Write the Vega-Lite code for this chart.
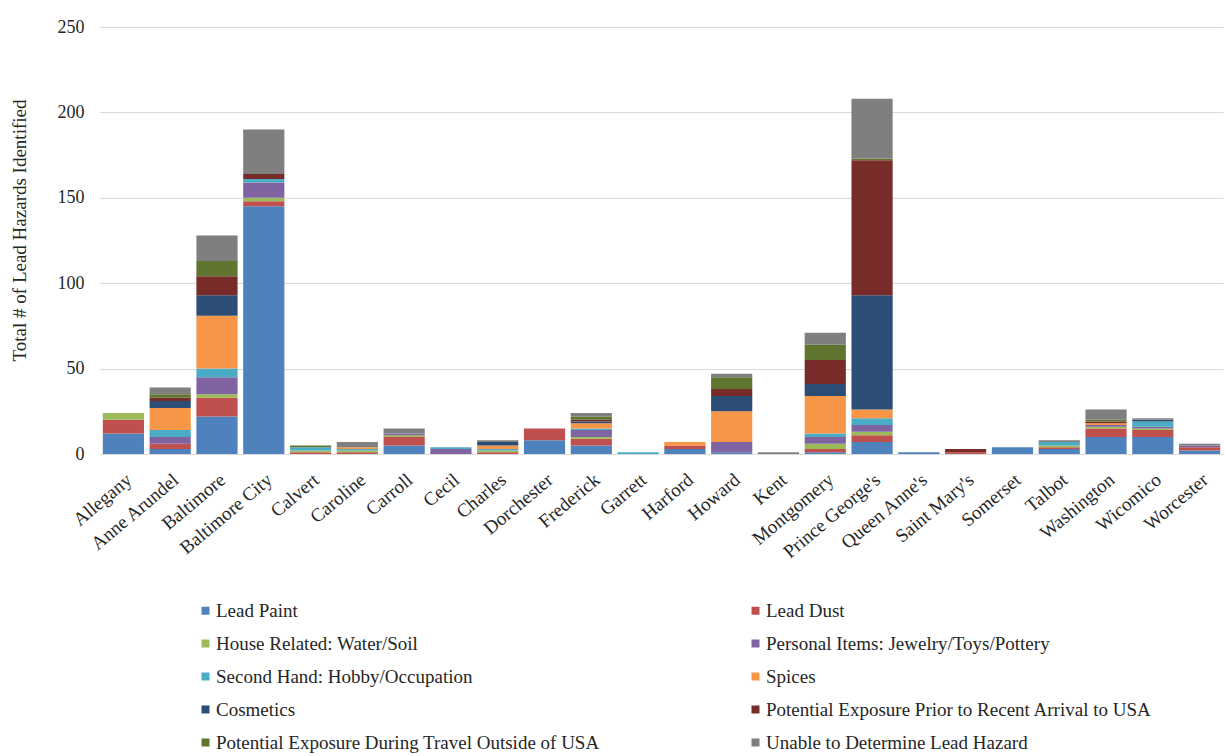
{
  "$schema": "https://vega.github.io/schema/vega-lite/v6.json",
  "autosize": "none",
  "width": 1123,
  "height": 427,
  "padding": {"left": 100, "top": 27, "right": 2, "bottom": 302},
  "background": "white",
  "config": {
    "font": "Liberation Serif",
    "view": {"stroke": null},
    "axis": {"labelFont": "Liberation Serif", "titleFont": "Liberation Serif", "labelColor": "#262626", "titleColor": "#262626"},
    "legend": {"labelFont": "Liberation Serif"}
  },
  "data": {
    "values": [
      {"county": "Allegany", "hazard": "Lead Paint", "count": 12},
      {"county": "Allegany", "hazard": "Lead Dust", "count": 8},
      {"county": "Allegany", "hazard": "House Related: Water/Soil", "count": 4},
      {"county": "Anne Arundel", "hazard": "Lead Paint", "count": 3},
      {"county": "Anne Arundel", "hazard": "Lead Dust", "count": 3},
      {"county": "Anne Arundel", "hazard": "Personal Items: Jewelry/Toys/Pottery", "count": 4},
      {"county": "Anne Arundel", "hazard": "Second Hand: Hobby/Occupation", "count": 4},
      {"county": "Anne Arundel", "hazard": "Spices", "count": 13},
      {"county": "Anne Arundel", "hazard": "Cosmetics", "count": 4},
      {"county": "Anne Arundel", "hazard": "Potential Exposure Prior to Recent Arrival to USA", "count": 2},
      {"county": "Anne Arundel", "hazard": "Potential Exposure During Travel Outside of USA", "count": 2},
      {"county": "Anne Arundel", "hazard": "Unable to Determine Lead Hazard", "count": 4},
      {"county": "Baltimore", "hazard": "Lead Paint", "count": 22},
      {"county": "Baltimore", "hazard": "Lead Dust", "count": 11},
      {"county": "Baltimore", "hazard": "House Related: Water/Soil", "count": 2},
      {"county": "Baltimore", "hazard": "Personal Items: Jewelry/Toys/Pottery", "count": 10},
      {"county": "Baltimore", "hazard": "Second Hand: Hobby/Occupation", "count": 5},
      {"county": "Baltimore", "hazard": "Spices", "count": 31},
      {"county": "Baltimore", "hazard": "Cosmetics", "count": 12},
      {"county": "Baltimore", "hazard": "Potential Exposure Prior to Recent Arrival to USA", "count": 11},
      {"county": "Baltimore", "hazard": "Potential Exposure During Travel Outside of USA", "count": 9},
      {"county": "Baltimore", "hazard": "Unable to Determine Lead Hazard", "count": 15},
      {"county": "Baltimore City", "hazard": "Lead Paint", "count": 145},
      {"county": "Baltimore City", "hazard": "Lead Dust", "count": 3},
      {"county": "Baltimore City", "hazard": "House Related: Water/Soil", "count": 2},
      {"county": "Baltimore City", "hazard": "Personal Items: Jewelry/Toys/Pottery", "count": 9},
      {"county": "Baltimore City", "hazard": "Second Hand: Hobby/Occupation", "count": 2},
      {"county": "Baltimore City", "hazard": "Potential Exposure Prior to Recent Arrival to USA", "count": 3},
      {"county": "Baltimore City", "hazard": "Unable to Determine Lead Hazard", "count": 26},
      {"county": "Calvert", "hazard": "Lead Dust", "count": 1},
      {"county": "Calvert", "hazard": "House Related: Water/Soil", "count": 1},
      {"county": "Calvert", "hazard": "Second Hand: Hobby/Occupation", "count": 2},
      {"county": "Calvert", "hazard": "Potential Exposure During Travel Outside of USA", "count": 1},
      {"county": "Caroline", "hazard": "Lead Dust", "count": 1},
      {"county": "Caroline", "hazard": "House Related: Water/Soil", "count": 1},
      {"county": "Caroline", "hazard": "Second Hand: Hobby/Occupation", "count": 1},
      {"county": "Caroline", "hazard": "Spices", "count": 1},
      {"county": "Caroline", "hazard": "Unable to Determine Lead Hazard", "count": 3},
      {"county": "Carroll", "hazard": "Lead Paint", "count": 5},
      {"county": "Carroll", "hazard": "Lead Dust", "count": 5},
      {"county": "Carroll", "hazard": "House Related: Water/Soil", "count": 1},
      {"county": "Carroll", "hazard": "Personal Items: Jewelry/Toys/Pottery", "count": 1},
      {"county": "Carroll", "hazard": "Unable to Determine Lead Hazard", "count": 3},
      {"county": "Cecil", "hazard": "Personal Items: Jewelry/Toys/Pottery", "count": 3},
      {"county": "Cecil", "hazard": "Second Hand: Hobby/Occupation", "count": 1},
      {"county": "Charles", "hazard": "Lead Dust", "count": 1},
      {"county": "Charles", "hazard": "House Related: Water/Soil", "count": 1},
      {"county": "Charles", "hazard": "Second Hand: Hobby/Occupation", "count": 1},
      {"county": "Charles", "hazard": "Spices", "count": 2},
      {"county": "Charles", "hazard": "Cosmetics", "count": 2},
      {"county": "Charles", "hazard": "Unable to Determine Lead Hazard", "count": 1},
      {"county": "Dorchester", "hazard": "Lead Paint", "count": 8},
      {"county": "Dorchester", "hazard": "Lead Dust", "count": 7},
      {"county": "Frederick", "hazard": "Lead Paint", "count": 5},
      {"county": "Frederick", "hazard": "Lead Dust", "count": 4},
      {"county": "Frederick", "hazard": "House Related: Water/Soil", "count": 1},
      {"county": "Frederick", "hazard": "Personal Items: Jewelry/Toys/Pottery", "count": 4},
      {"county": "Frederick", "hazard": "Second Hand: Hobby/Occupation", "count": 1},
      {"county": "Frederick", "hazard": "Spices", "count": 3},
      {"county": "Frederick", "hazard": "Cosmetics", "count": 1},
      {"county": "Frederick", "hazard": "Potential Exposure Prior to Recent Arrival to USA", "count": 1},
      {"county": "Frederick", "hazard": "Potential Exposure During Travel Outside of USA", "count": 2},
      {"county": "Frederick", "hazard": "Unable to Determine Lead Hazard", "count": 2},
      {"county": "Garrett", "hazard": "Second Hand: Hobby/Occupation", "count": 1},
      {"county": "Harford", "hazard": "Lead Paint", "count": 3},
      {"county": "Harford", "hazard": "Lead Dust", "count": 2},
      {"county": "Harford", "hazard": "Spices", "count": 2},
      {"county": "Howard", "hazard": "Lead Paint", "count": 1},
      {"county": "Howard", "hazard": "Personal Items: Jewelry/Toys/Pottery", "count": 6},
      {"county": "Howard", "hazard": "Spices", "count": 18},
      {"county": "Howard", "hazard": "Cosmetics", "count": 9},
      {"county": "Howard", "hazard": "Potential Exposure Prior to Recent Arrival to USA", "count": 4},
      {"county": "Howard", "hazard": "Potential Exposure During Travel Outside of USA", "count": 7},
      {"county": "Howard", "hazard": "Unable to Determine Lead Hazard", "count": 2},
      {"county": "Kent", "hazard": "Unable to Determine Lead Hazard", "count": 1},
      {"county": "Montgomery", "hazard": "Lead Paint", "count": 1},
      {"county": "Montgomery", "hazard": "Lead Dust", "count": 2},
      {"county": "Montgomery", "hazard": "House Related: Water/Soil", "count": 3},
      {"county": "Montgomery", "hazard": "Personal Items: Jewelry/Toys/Pottery", "count": 4},
      {"county": "Montgomery", "hazard": "Second Hand: Hobby/Occupation", "count": 2},
      {"county": "Montgomery", "hazard": "Spices", "count": 22},
      {"county": "Montgomery", "hazard": "Cosmetics", "count": 7},
      {"county": "Montgomery", "hazard": "Potential Exposure Prior to Recent Arrival to USA", "count": 14},
      {"county": "Montgomery", "hazard": "Potential Exposure During Travel Outside of USA", "count": 9},
      {"county": "Montgomery", "hazard": "Unable to Determine Lead Hazard", "count": 7},
      {"county": "Prince George's", "hazard": "Lead Paint", "count": 7},
      {"county": "Prince George's", "hazard": "Lead Dust", "count": 4},
      {"county": "Prince George's", "hazard": "House Related: Water/Soil", "count": 2},
      {"county": "Prince George's", "hazard": "Personal Items: Jewelry/Toys/Pottery", "count": 4},
      {"county": "Prince George's", "hazard": "Second Hand: Hobby/Occupation", "count": 4},
      {"county": "Prince George's", "hazard": "Spices", "count": 5},
      {"county": "Prince George's", "hazard": "Cosmetics", "count": 67},
      {"county": "Prince George's", "hazard": "Potential Exposure Prior to Recent Arrival to USA", "count": 79},
      {"county": "Prince George's", "hazard": "Potential Exposure During Travel Outside of USA", "count": 1},
      {"county": "Prince George's", "hazard": "Unable to Determine Lead Hazard", "count": 35},
      {"county": "Queen Anne's", "hazard": "Lead Paint", "count": 1},
      {"county": "Saint Mary's", "hazard": "Lead Dust", "count": 1},
      {"county": "Saint Mary's", "hazard": "Potential Exposure Prior to Recent Arrival to USA", "count": 2},
      {"county": "Somerset", "hazard": "Lead Paint", "count": 4},
      {"county": "Talbot", "hazard": "Lead Paint", "count": 3},
      {"county": "Talbot", "hazard": "Lead Dust", "count": 1},
      {"county": "Talbot", "hazard": "House Related: Water/Soil", "count": 1},
      {"county": "Talbot", "hazard": "Second Hand: Hobby/Occupation", "count": 2},
      {"county": "Talbot", "hazard": "Unable to Determine Lead Hazard", "count": 1},
      {"county": "Washington", "hazard": "Lead Paint", "count": 10},
      {"county": "Washington", "hazard": "Lead Dust", "count": 5},
      {"county": "Washington", "hazard": "House Related: Water/Soil", "count": 1},
      {"county": "Washington", "hazard": "Personal Items: Jewelry/Toys/Pottery", "count": 1},
      {"county": "Washington", "hazard": "Spices", "count": 1},
      {"county": "Washington", "hazard": "Potential Exposure Prior to Recent Arrival to USA", "count": 1},
      {"county": "Washington", "hazard": "Potential Exposure During Travel Outside of USA", "count": 1},
      {"county": "Washington", "hazard": "Unable to Determine Lead Hazard", "count": 6},
      {"county": "Wicomico", "hazard": "Lead Paint", "count": 10},
      {"county": "Wicomico", "hazard": "Lead Dust", "count": 4},
      {"county": "Wicomico", "hazard": "House Related: Water/Soil", "count": 1},
      {"county": "Wicomico", "hazard": "Personal Items: Jewelry/Toys/Pottery", "count": 1},
      {"county": "Wicomico", "hazard": "Second Hand: Hobby/Occupation", "count": 3},
      {"county": "Wicomico", "hazard": "Cosmetics", "count": 1},
      {"county": "Wicomico", "hazard": "Unable to Determine Lead Hazard", "count": 1},
      {"county": "Worcester", "hazard": "Lead Paint", "count": 2},
      {"county": "Worcester", "hazard": "Lead Dust", "count": 2},
      {"county": "Worcester", "hazard": "Personal Items: Jewelry/Toys/Pottery", "count": 1},
      {"county": "Worcester", "hazard": "Unable to Determine Lead Hazard", "count": 1}
    ]
  },
  "transform": [
    {"calculate": "indexof(['Lead Paint', 'Lead Dust', 'House Related: Water/Soil', 'Personal Items: Jewelry/Toys/Pottery', 'Second Hand: Hobby/Occupation', 'Spices', 'Cosmetics', 'Potential Exposure Prior to Recent Arrival to USA', 'Potential Exposure During Travel Outside of USA', 'Unable to Determine Lead Hazard'], datum.hazard)", "as": "stackOrder"}
  ],
  "mark": {"type": "bar"},
  "encoding": {
    "x": {
      "field": "county",
      "type": "nominal",
      "sort": null,
      "scale": {"paddingInner": 0.12, "paddingOuter": 0.06},
      "axis": {
        "title": null,
        "labelAngle": -40,
        "labelFont": "Liberation Serif",
        "labelFontSize": 19,
        "labelPadding": 16,
        "ticks": false,
        "domainColor": "#d9d9d9",
        "domainWidth": 1
      }
    },
    "y": {
      "field": "count",
      "type": "quantitative",
      "stack": "zero",
      "scale": {"domain": [0, 250], "nice": false},
      "axis": {
        "title": "Total # of Lead Hazards Identified",
        "titleFont": "Liberation Serif",
        "titleFontSize": 19,
        "titleFontWeight": "normal",
        "titlePadding": 28,
        "titleY": 203,
        "values": [0, 50, 100, 150, 200, 250],
        "labelFont": "Liberation Serif",
        "labelFontSize": 18,
        "labelPadding": 16,
        "ticks": false,
        "domain": false,
        "gridColor": "#d9d9d9",
        "gridWidth": 1
      }
    },
    "order": {"field": "stackOrder", "type": "quantitative", "sort": "ascending"},
    "color": {
      "field": "hazard",
      "type": "nominal",
      "scale": {
        "domain": [
          "Lead Paint", "Lead Dust", "House Related: Water/Soil", "Personal Items: Jewelry/Toys/Pottery",
          "Second Hand: Hobby/Occupation", "Spices", "Cosmetics",
          "Potential Exposure Prior to Recent Arrival to USA",
          "Potential Exposure During Travel Outside of USA", "Unable to Determine Lead Hazard"
        ],
        "range": ["#4F81BD", "#C0504D", "#9BBB59", "#8064A2", "#4BACC6", "#F79646", "#2C4D75", "#772C2A", "#5F7530", "#7F7F7F"]
      },
      "legend": {
        "title": null,
        "orient": "none",
        "direction": "horizontal",
        "legendX": 96,
        "legendY": 574,
        "columns": 2,
        "columnPadding": 146,
        "rowPadding": 13,
        "symbolType": "square",
        "symbolSize": 64,
        "symbolStrokeWidth": 0,
        "symbolOffset": 0,
        "labelOffset": 1,
        "labelFont": "Liberation Serif",
        "labelFontSize": 19,
        "labelColor": "#262626",
        "labelLimit": 600
      }
    }
  }
}
